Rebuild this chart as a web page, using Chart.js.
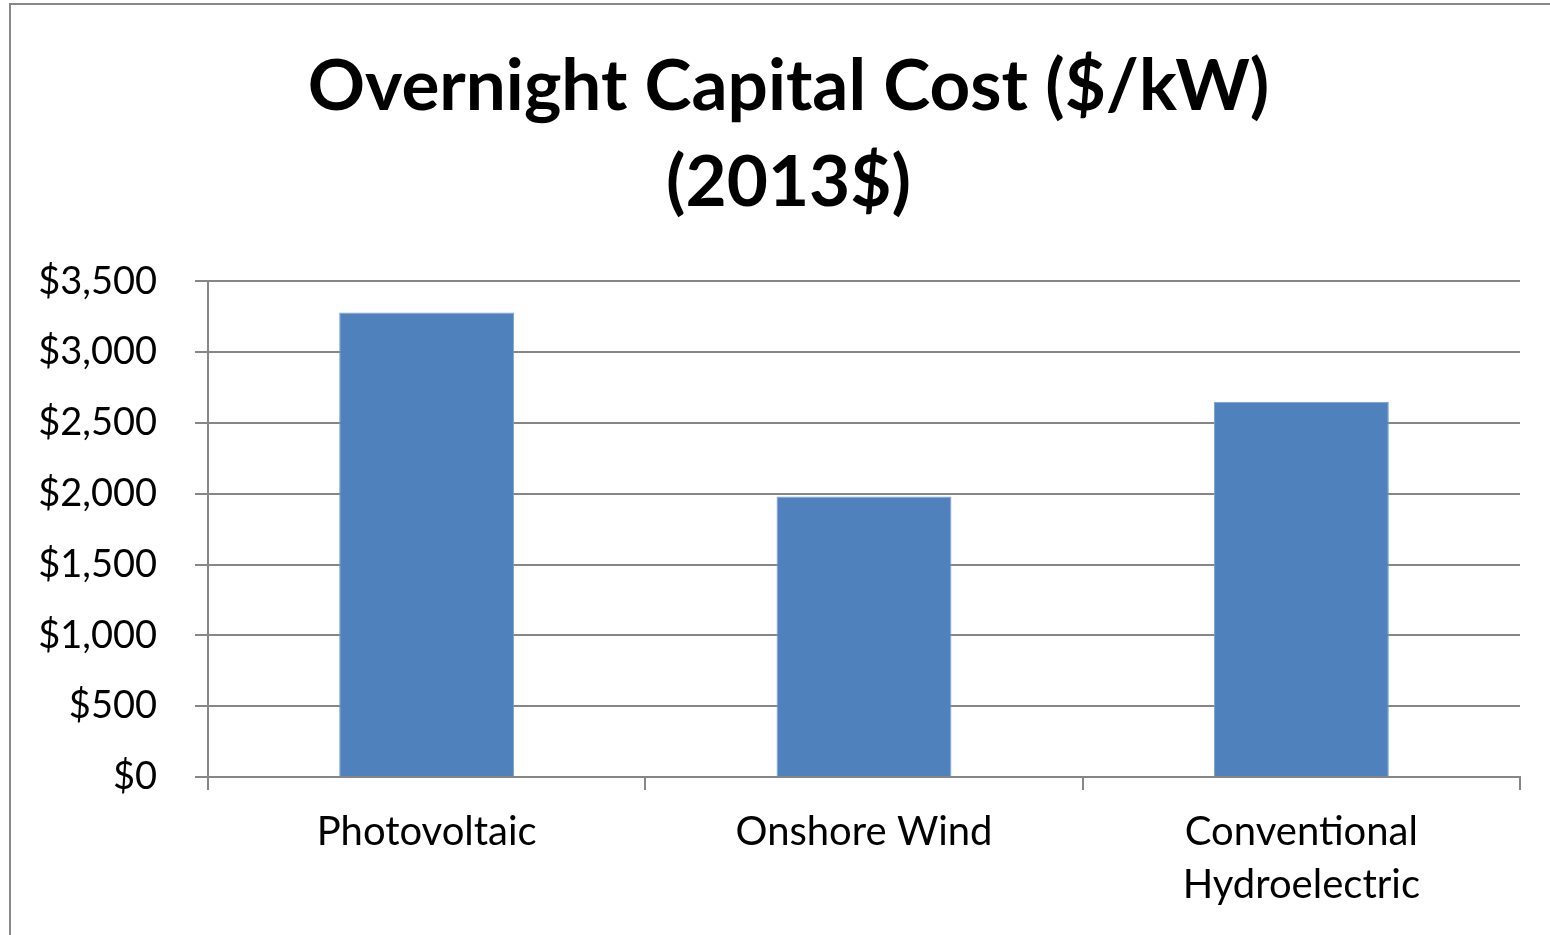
<!DOCTYPE html>
<html>
<head>
<meta charset="utf-8">
<script src="https://cdn.jsdelivr.net/npm/chart.js@4"></script>
<style>
  html, body { margin: 0; padding: 0; background: #fff; overflow: hidden; }
  #frame {
    position: absolute; left: 9px; top: 3px; width: 1600px; height: 1000px;
    border-left: 2px solid #898989; border-top: 2px solid #898989;
  }
  #chart { position: absolute; left: 0; top: 0; }
</style>
</head>
<body>
<div id="frame"></div>
<canvas id="chart" width="1550" height="935"></canvas>
<script>
const categories = ["Photovoltaic", "Onshore Wind", ["Conventional", "Hydroelectric"]];
const costs = [3279, 1980, 2650];
const yTicks = [0, 500, 1000, 1500, 2000, 2500, 3000, 3500];

const axisGray = "#868686";
const font = "Lato";

// title in the original sits a bit right of the canvas centre
const shiftTitle = {
  id: "shiftTitle",
  afterLayout(chart) {
    if (chart.titleBlock) chart.titleBlock.left += 57;
  },
};

const config = {
  type: "bar",
  data: {
    labels: categories,
    datasets: [
      {
        label: "Overnight Capital Cost",
        backgroundColor: "#4F81BD",
        borderColor: "#7A9FCE",
        borderWidth: 1,
        data: costs,
        barPercentage: 0.4,
        categoryPercentage: 1.0,
      },
    ],
  },
  options: {
    responsive: false,
    animation: false,
    layout: { padding: { left: 0, right: 30, top: 0, bottom: 0 } },
    plugins: {
      legend: { display: false },
      tooltip: { enabled: false },
      title: {
        display: true,
        text: ["Overnight Capital Cost ($/kW)", "(2013$)"],
        color: "#000",
        font: { family: font, size: 71, weight: "bold", lineHeight: 1.34 },
        padding: { top: 40, bottom: 51 },
      },
    },
    scales: {
      x: {
        afterFit: (s) => { s.height = 158; },
        grid: {
          offset: true,
          drawOnChartArea: false,
          drawTicks: true,
          tickLength: 13,
          color: axisGray,
          lineWidth: 2,
        },
        border: { display: true, color: axisGray, width: 2 },
        ticks: {
          color: "#000",
          padding: 15,
          maxRotation: 0,
          autoSkip: false,
          font: { family: font, size: 40, lineHeight: 1.33 },
        },
      },
      y: {
        min: 0,
        max: 3500,
        afterFit: (s) => { s.width = 208; },
        afterBuildTicks: (s) => { s.ticks = yTicks.map((v) => ({ value: v })); },
        grid: {
          drawTicks: true,
          tickLength: 13,
          color: axisGray,
          lineWidth: 2,
        },
        border: { display: true, color: axisGray, width: 2 },
        ticks: {
          color: "#000",
          padding: 38,
          font: { family: font, size: 38 },
          callback: (v) => "$" + v.toLocaleString("en-US"),
        },
      },
    },
  },
  plugins: [shiftTitle],
};

const myChart = new Chart(document.getElementById("chart"), config);
</script>
</body>
</html>
